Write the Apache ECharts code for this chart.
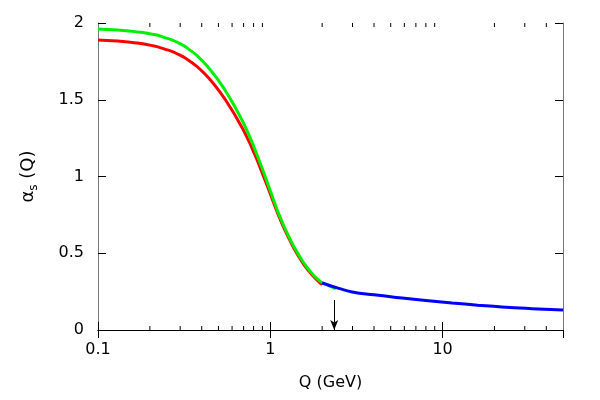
<!DOCTYPE html>
<html>
<head>
<meta charset="utf-8">
<script src="https://cdn.jsdelivr.net/npm/echarts@6/dist/echarts.min.js"></script>
<style>
  html, body { margin: 0; padding: 0; background: #fff; }
  #chart { width: 600px; height: 400px; }
</style>
</head>
<body>
<div id="chart"></div>
<script>
// red curve
const redQ = [0.1, 0.13, 0.17, 0.2, 0.237, 0.297, 0.35, 0.388, 0.444, 0.507, 0.58, 0.662, 0.74, 0.809, 0.88, 0.962, 1.04, 1.129, 1.29, 1.474, 1.685, 1.925, 2.0];
const redA = [1.889, 1.882, 1.869, 1.856, 1.835, 1.792, 1.742, 1.702, 1.635, 1.554, 1.458, 1.349, 1.245, 1.148, 1.048, 0.936, 0.836, 0.734, 0.592, 0.473, 0.380, 0.311, 0.296];
// green curve
const greenQ = [0.1, 0.13, 0.17, 0.2, 0.237, 0.297, 0.35, 0.388, 0.444, 0.507, 0.58, 0.662, 0.74, 0.809, 0.88, 0.962, 1.04, 1.129, 1.29, 1.474, 1.685, 1.925, 2.058, 2.4];
const greenA = [1.961, 1.954, 1.942, 1.930, 1.910, 1.867, 1.815, 1.772, 1.701, 1.616, 1.514, 1.399, 1.288, 1.184, 1.078, 0.960, 0.854, 0.747, 0.602, 0.483, 0.389, 0.321, 0.303, 0.268];
// blue curve
const blueQ = [2.0, 2.5, 2.99, 4.0, 5.82, 8.0, 11.35, 16, 22.1, 33, 50];
const blueA = [0.306, 0.271, 0.248, 0.229, 0.208, 0.192, 0.176, 0.162, 0.150, 0.139, 0.130];
// minor ticks on the log axis
const minorTicks = [0.2, 0.3, 0.4, 0.5, 0.6, 0.7, 0.8, 0.9, 2, 3, 4, 5, 6, 7, 8, 9, 20, 30, 40];
// arrow marker
const arrowQ = 2.35;
const arrowTop = 0.195;

const pairs = (xs, ys) => xs.map((x, i) => [x, ys[i]]);

const chart = echarts.init(document.getElementById('chart'));
const font = 'DejaVu Sans';

const xBase = {
    type: 'log', logBase: 10, min: 0.1, max: 50,
    axisTick: { inside: true, length: 8, lineStyle: { color: '#000' } },
    splitLine: { show: false },
    minorTick: { show: false }
};
const yBase = {
    type: 'value', min: 0, max: 2, interval: 0.5,
    axisTick: { inside: true, length: 8, lineStyle: { color: '#000' } },
    splitLine: { show: false }
};

chart.setOption({
    animation: false,
    grid: { left: 98, right: 37, top: 23, bottom: 70 },
    xAxis: [
        Object.assign({}, xBase, {
            position: 'bottom',
            name: 'Q (GeV)', nameLocation: 'middle', nameGap: 45,
            nameTextStyle: { fontFamily: font, fontSize: 16, color: '#000' },
            axisLine: { lineStyle: { color: '#000', width: 1 } },
            axisLabel: { fontFamily: font, fontSize: 16, color: '#000', margin: 12, showMaxLabel: false }
        }),
        Object.assign({}, xBase, {
            position: 'top',
            axisLine: { lineStyle: { color: '#000', width: 1 } },
            axisLabel: { show: false }
        })
    ],
    yAxis: [
        Object.assign({}, yBase, {
            position: 'left',
            name: '{a|α}{s|s}{a| (Q)}', nameLocation: 'middle', nameGap: 58, nameRotate: 90,
            nameTextStyle: {
                fontFamily: font, color: '#000',
                rich: {
                    a: { fontFamily: font, fontSize: 18, color: '#000', lineHeight: 24 },
                    s: { fontFamily: font, fontSize: 12, color: '#000', verticalAlign: 'bottom', lineHeight: 14 }
                }
            },
            axisLine: { lineStyle: { color: '#777', width: 1 } },
            axisLabel: { fontFamily: font, fontSize: 16, color: '#000', margin: 14 }
        }),
        Object.assign({}, yBase, {
            position: 'right',
            axisLine: { show: true, lineStyle: { color: '#777', width: 1 } },
            axisLabel: { show: false }
        })
    ],
    series: [
        {
            type: 'custom',
            xAxisIndex: 0, yAxisIndex: 0,
            silent: true, clip: false, z: 1,
            data: minorTicks.map(v => [v]),
            renderItem: (params, api) => {
                const b = api.coord([api.value(0), 0]);
                const t = api.coord([api.value(0), 2]);
                const style = { stroke: '#000', lineWidth: 1 };
                return {
                    type: 'group',
                    children: [
                        { type: 'line', shape: { x1: b[0], y1: b[1], x2: b[0], y2: b[1] - 4 }, style },
                        { type: 'line', shape: { x1: t[0], y1: t[1], x2: t[0], y2: t[1] + 4 }, style }
                    ]
                };
            }
        },
        {
            type: 'line', data: pairs(redQ, redA), smooth: 0.6, showSymbol: false,
            lineStyle: { color: '#ff0000', width: 3 }, z: 2
        },
        {
            type: 'line', data: pairs(greenQ, greenA), smooth: 0.6, showSymbol: false,
            lineStyle: { color: '#00ee00', width: 3 }, z: 3
        },
        {
            type: 'line', data: pairs(blueQ, blueA), smooth: 0.5, showSymbol: false,
            lineStyle: { color: '#0000ff', width: 3 }, z: 4,
            markLine: {
                silent: true,
                symbol: ['none', 'arrow'], symbolSize: [6, 10],
                label: { show: false },
                lineStyle: { color: '#000', width: 1, type: 'solid' },
                data: [[{ coord: [arrowQ, arrowTop] }, { coord: [arrowQ, 0] }]]
            }
        }
    ]
});
</script>
</body>
</html>
